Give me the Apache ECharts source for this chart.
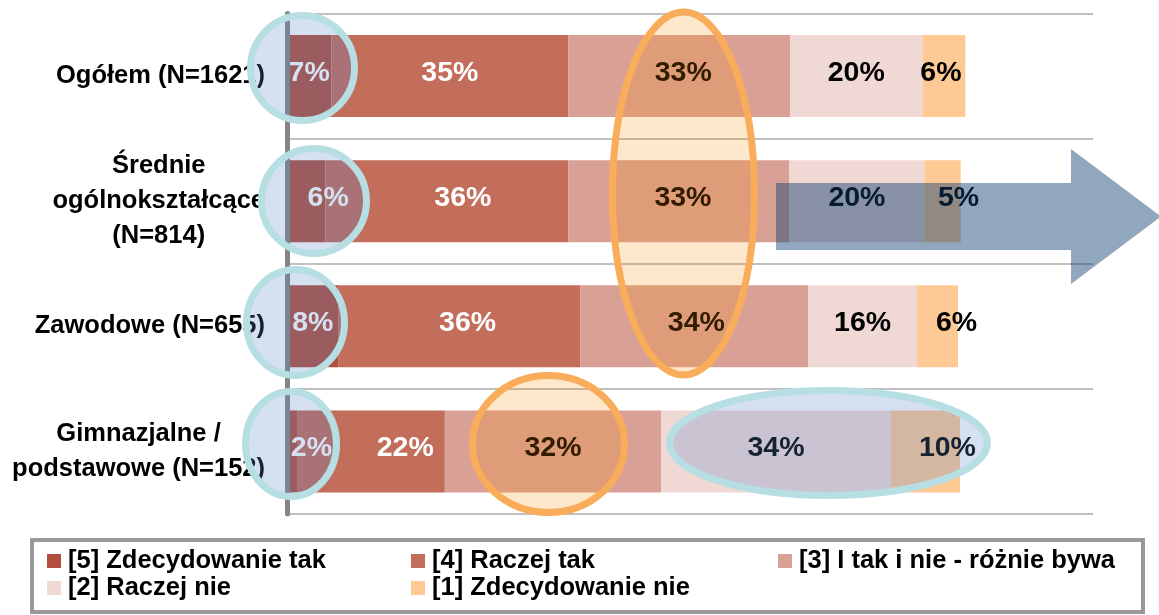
<!DOCTYPE html>
<html><head><meta charset="utf-8">
<script src="https://cdn.jsdelivr.net/npm/echarts@6/dist/echarts.min.js"></script>
<style>html,body{margin:0;padding:0;background:#fff}#c{width:1159px;height:615px}</style>
</head><body><div id="c"></div>
<script>
// ---- data ----
const categories = ['Ogółem (N=1621)', 'Średnie\nogólnokształcące\n(N=814)', 'Zawodowe (N=655)', 'Gimnazjalne /\npodstawowe (N=152)'];
const seriesNames = ['[5] Zdecydowanie tak', '[4] Raczej tak', '[3] I tak i nie - różnie bywa', '[2] Raczej nie', '[1] Zdecydowanie nie'];
const zdecydowanieTak = [6.6, 5.7, 7.7, 1.6];
const raczejTak = [35.3, 36.2, 36.0, 21.9];
const rozneBywa = [33.0, 32.9, 33.9, 32.2];
const raczejNie = [19.7, 20.1, 16.2, 34.2];
const zdecydowanieNie = [6.4, 5.4, 6.1, 10.3];
const valueMax = 120;

// ---- styles ----
const FONT = '"Liberation Sans", Arial, sans-serif';
const seriesColors = ['#b24f3c', '#c36d5b', '#d9a096', '#f0d8d4', '#fdc995'];
const labelColors = ['#ffffff', '#ffffff', '#000000', '#000000', '#000000'];
// horizontal nudges (px) of individual value labels, per series / per category
const labelNudgeX = [
  [0, 22, 0, 19],
  [0, 16, 8, 34],
  [4, 4, 2, 0],
  [0, 0, 0, 0],
  [-3, 16, 19, 22]
];
const values = [zdecydowanieTak, raczejTak, rozneBywa, raczejNie, zdecydowanieNie];

const rich = {};
categories.forEach((c, i) => {
  rich['c' + i] = { align: 'center', fontSize: 25.5, fontWeight: 'bold', fontFamily: FONT, color: '#000', lineHeight: 35 };
});

const legendCommon = {
  orient: 'vertical', padding: 0, itemGap: 1, itemWidth: 14, itemHeight: 14, icon: 'rect',
  selectedMode: false,
  textStyle: { fontSize: 25.5, fontWeight: 'bold', fontFamily: FONT, color: '#000', lineHeight: 22, padding: [0, 0, 0, 2] }
};

const tealFill = 'rgba(88,130,200,0.25)', tealStroke = '#b7dfe3';
const orangeFill = 'rgba(250,140,0,0.2)', orangeStroke = '#f9ad5b';
function ell(cx, cy, rx, ry, fill, stroke) {
  return { type: 'ellipse', z: 100, silent: true, shape: { cx, cy, rx, ry }, style: { fill, stroke, lineWidth: 7 } };
}

const chart = echarts.init(document.getElementById('c'), null, { renderer: 'canvas' });
chart.setOption({
  animation: false,
  backgroundColor: '#fff',
  grid: { left: 287, right: 66, top: 13.5, bottom: 101, containLabel: false },
  xAxis: { type: 'value', min: 0, max: valueMax, show: false },
  yAxis: {
    type: 'category', data: categories, inverse: true, offset: 3, z: 3,
    axisLine: { show: true, lineStyle: { color: '#858585', width: 5 } },
    axisTick: { show: false },
    splitLine: { show: true, lineStyle: { color: '#c0c0c0', width: 2 } },
    axisLabel: {
      margin: 19,
      formatter: (v, i) => v.split('\n').map(s => '{c' + i + '|' + s + '}').join('\n'),
      rich
    }
  },
  legend: [
    Object.assign({ data: [seriesNames[0], seriesNames[3]], left: 47, top: 548 }, legendCommon),
    Object.assign({ data: [seriesNames[1], seriesNames[4]], left: 411, top: 548 }, legendCommon),
    Object.assign({ data: [seriesNames[2]], left: 778, top: 548 }, legendCommon)
  ],
  series: values.map((arr, k) => ({
    name: seriesNames[k], type: 'bar', stack: 'total', barWidth: 82,
    data: arr.map((v, i) => labelNudgeX[k][i] ? { value: v, label: { offset: [labelNudgeX[k][i], -3] } } : v),
    itemStyle: { color: seriesColors[k] },
    emphasis: { disabled: true },
    label: {
      show: true, position: 'inside', offset: [0, -3],
      formatter: p => Math.round(p.value) + '%',
      color: labelColors[k], fontSize: 28.5, fontWeight: 'bold', fontFamily: FONT
    }
  })),
  graphic: [
    { type: 'rect', z: 1, silent: true, shape: { x: 32, y: 540, width: 1111, height: 72 }, style: { fill: 'none', stroke: '#999999', lineWidth: 4 } },
    ell(302.5, 68, 52, 52.5, tealFill, tealStroke),
    ell(314, 201, 52.5, 52.5, tealFill, tealStroke),
    ell(295.5, 322.5, 49, 53, tealFill, tealStroke),
    ell(291, 444, 45.5, 52.5, tealFill, tealStroke),
    ell(828.5, 443, 159, 52.5, tealFill, tealStroke),
    ell(683.5, 193.5, 71, 181.5, orangeFill, orangeStroke),
    ell(548.5, 444, 76, 68.5, orangeFill, orangeStroke),
    { type: 'polygon', z: 100, silent: true,
      shape: { points: [[776, 183], [1071, 183], [1071, 149], [1161, 216.5], [1071, 284], [1071, 250], [776, 250]] },
      style: { fill: 'rgba(10,60,110,0.45)' } }
  ]
});
</script></body></html>
